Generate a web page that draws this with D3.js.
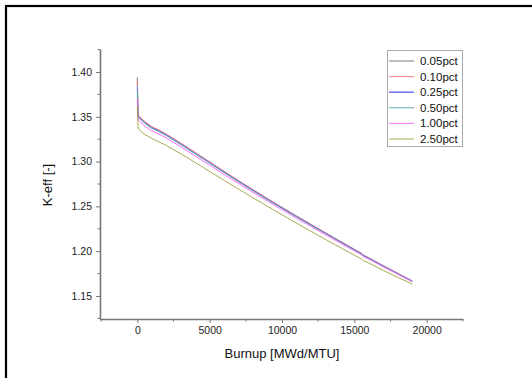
<!DOCTYPE html>
<html lang="en">
<head>
<meta charset="UTF-8">
<title>K-eff vs Burnup</title>
<script src="https://d3js.org/d3.v7.min.js"></script>
<style>
    body { margin: 0; padding: 0; background: #fff; overflow: hidden; }
    svg { display: block; font-family: "Liberation Sans", Arial, sans-serif; }
</style>
</head>
<body>
<svg id="chart" width="532" height="378"></svg>
<script>
// burnup points [MWd/MTU]
const burnup = [0, 50, 150, 500, 1000, 1500, 2000, 3000, 4000, 5000, 6000, 7000, 8000, 9000,
    10000, 11000, 12000, 13000, 14000, 15000, 15500, 15600, 16000, 17000, 18000, 19000];

const keff005 = [1.3940, 1.3520, 1.3495, 1.3445, 1.3385, 1.3350, 1.3305, 1.3205, 1.3100, 1.2995,
    1.2890, 1.2785, 1.2685, 1.2585, 1.2488, 1.2392, 1.2298, 1.2205, 1.2112, 1.2020, 1.1975,
    1.1958, 1.1925, 1.1837, 1.1752, 1.1668];
const keff010 = [1.3900, 1.3525, 1.3500, 1.3450, 1.3390, 1.3352, 1.3306, 1.3206, 1.3101, 1.2996,
    1.2891, 1.2786, 1.2686, 1.2586, 1.2489, 1.2393, 1.2299, 1.2206, 1.2113, 1.2021, 1.1976,
    1.1959, 1.1926, 1.1838, 1.1753, 1.1669];
const keff025 = [1.3850, 1.3512, 1.3487, 1.3437, 1.3377, 1.3342, 1.3297, 1.3197, 1.3093, 1.2988,
    1.2884, 1.2779, 1.2679, 1.2580, 1.2483, 1.2387, 1.2294, 1.2201, 1.2109, 1.2017, 1.1972,
    1.1955, 1.1922, 1.1835, 1.1750, 1.1666];
const keff050 = [1.3800, 1.3505, 1.3480, 1.3430, 1.3370, 1.3335, 1.3290, 1.3190, 1.3086, 1.2981,
    1.2877, 1.2773, 1.2673, 1.2574, 1.2477, 1.2382, 1.2289, 1.2196, 1.2104, 1.2013, 1.1968,
    1.1951, 1.1919, 1.1832, 1.1748, 1.1664];
const keff100 = [1.3700, 1.3475, 1.3450, 1.3400, 1.3343, 1.3308, 1.3264, 1.3166, 1.3063, 1.2960,
    1.2857, 1.2755, 1.2656, 1.2558, 1.2462, 1.2368, 1.2276, 1.2184, 1.2093, 1.2003, 1.1959,
    1.1942, 1.1911, 1.1825, 1.1742, 1.1659];
const keff250 = [1.3620, 1.3375, 1.3352, 1.3305, 1.3258, 1.3220, 1.3180, 1.3088, 1.2990, 1.2890,
    1.2790, 1.2692, 1.2596, 1.2500, 1.2406, 1.2313, 1.2222, 1.2132, 1.2043, 1.1955, 1.1912,
    1.1896, 1.1868, 1.1785, 1.1708, 1.1634];

const seriesNames = ["0.05pct", "0.10pct", "0.25pct", "0.50pct", "1.00pct", "2.50pct"];
const seriesValues = [keff005, keff010, keff025, keff050, keff100, keff250];
const seriesColors = ["#707070", "#ff7070", "#7070ff", "#50a0a0", "#ff60ff", "#a0a040"];

const yTicks = [1.15, 1.20, 1.25, 1.30, 1.35, 1.40];
const xTicks = [0, 5000, 10000, 15000, 20000];

const svg = d3.select("#chart");

// outer frame (page border), runs off the right and bottom edges
svg.append("rect")
    .attr("x", 6).attr("y", 6)
    .attr("width", 600).attr("height", 500)
    .attr("fill", "none")
    .attr("stroke", "#000")
    .attr("stroke-width", 2.2);

const margin = { left: 100, top: 49, right: 463, bottom: 319 };

const x = d3.scaleLinear().domain([-2580, 22510]).range([margin.left, margin.right]);
const y = d3.scaleLinear().domain([1.1243, 1.4257]).range([margin.bottom, margin.top]);

// axes
const xAxis = svg.append("g")
    .attr("transform", `translate(0,${margin.bottom})`)
    .call(d3.axisBottom(x).tickValues(xTicks).tickSize(4).tickPadding(4)
        .tickFormat(d3.format("d")).tickSizeOuter(0));
const yAxis = svg.append("g")
    .attr("transform", `translate(${margin.left},0)`)
    .call(d3.axisLeft(y).tickValues(yTicks).tickSize(4).tickPadding(4)
        .tickFormat(d3.format(".2f")).tickSizeOuter(0));

// minor ticks
const xMinor = d3.range(-2500, 22501, 2500).filter(v => !xTicks.includes(v));
svg.append("g").selectAll("line").data(xMinor).join("line")
    .attr("x1", d => x(d)).attr("x2", d => x(d))
    .attr("y1", margin.bottom).attr("y2", margin.bottom + 2.5)
    .attr("stroke", "#777").attr("stroke-width", 1);
const yMinor = [1.125, 1.175, 1.225, 1.275, 1.325, 1.375, 1.425];
svg.append("g").selectAll("line").data(yMinor).join("line")
    .attr("y1", d => y(d)).attr("y2", d => y(d))
    .attr("x1", margin.left).attr("x2", margin.left - 2.5)
    .attr("stroke", "#777").attr("stroke-width", 1);

[xAxis, yAxis].forEach(g => {
    g.select(".domain").attr("stroke", "#777").attr("stroke-width", 1.6);
    g.selectAll(".tick line").attr("stroke", "#777").attr("stroke-width", 1);
    g.selectAll(".tick text").attr("fill", "#222")
        .style("font-size", "10.5px").style("font-family", "'Liberation Sans', Arial, sans-serif");
});

// axis titles
svg.append("text")
    .attr("x", 282).attr("y", 358)
    .attr("text-anchor", "middle")
    .style("font-size", "13px").attr("fill", "#111")
    .text("Burnup [MWd/MTU]");
svg.append("text")
    .attr("transform", "translate(52,185) rotate(-90)")
    .attr("text-anchor", "middle")
    .style("font-size", "13px").attr("fill", "#111")
    .text("K-eff [-]");

// curves
const line = d3.line()
    .x((d, i) => x(burnup[i]))
    .y(d => y(d));

svg.append("g").selectAll("path")
    .data(seriesValues)
    .join("path")
    .attr("d", line)
    .attr("fill", "none")
    .attr("stroke", (d, i) => seriesColors[i])
    .attr("stroke-width", 0.9);

// legend
const legend = svg.append("g");
legend.append("rect")
    .attr("x", 387.5).attr("y", 50.5)
    .attr("width", 75).attr("height", 96)
    .attr("fill", "#fff")
    .attr("stroke", "#aaa").attr("stroke-width", 1);

const rows = legend.selectAll("g.item")
    .data(seriesNames)
    .join("g")
    .attr("class", "item")
    .attr("transform", (d, i) => `translate(0,${61 + i * 15.6})`);
rows.append("line")
    .attr("x1", 389).attr("x2", 414)
    .attr("stroke", (d, i) => seriesColors[i])
    .attr("stroke-width", (d, i) => i === 2 ? 1.5 : 0.9);
rows.append("text")
    .attr("x", 420).attr("y", 4)
    .style("font-size", "11.5px").attr("fill", "#111")
    .text(d => d);
</script>
</body>
</html>
